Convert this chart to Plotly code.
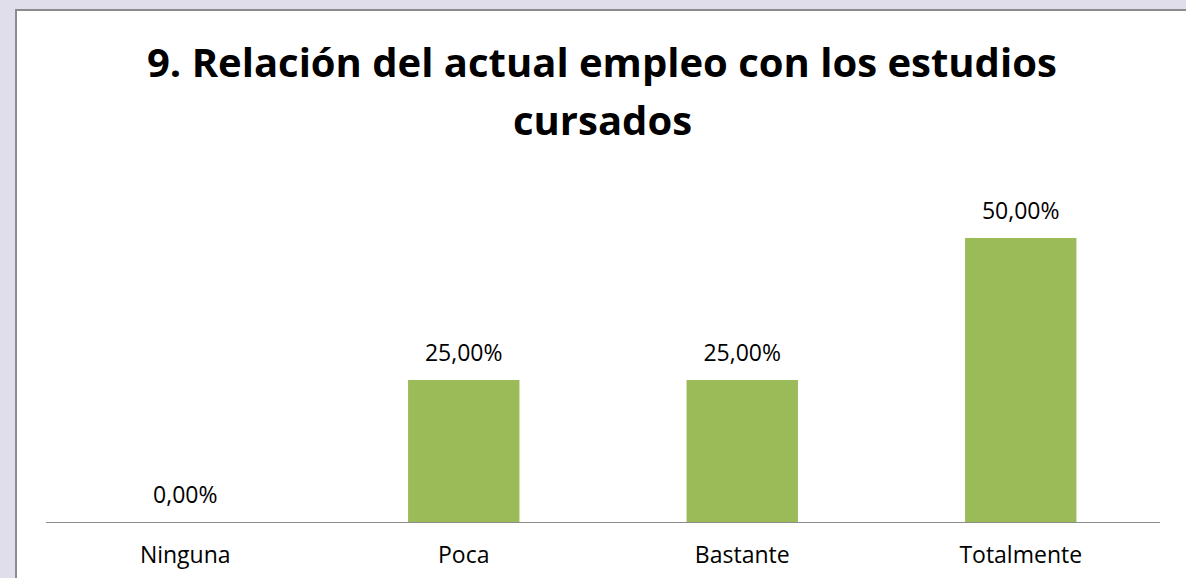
import plotly.graph_objects as go

categorias = ["Ninguna", "Poca", "Bastante", "Totalmente"]
porcentajes = [0.0, 0.25, 0.25, 0.50]
etiquetas = ["0,00%", "25,00%", "25,00%", "50,00%"]

titulo_1 = "9. Relación del actual empleo con los estudios"
titulo_2 = "cursados"

W, H = 1186, 578
L, R, T, B = 46, 26, 180, 56
pw, ph = W - L - R, H - T - B


def py(y):
    # posicion vertical en px -> fraccion de papel
    return (H - B - y) / ph


fig = go.Figure()
fig.add_trace(go.Bar(
    x=categorias, y=porcentajes,
    marker=dict(color="#9bbb59", line=dict(width=0)),
    width=0.4, hoverinfo="skip",
))
# etiquetas de datos encima de cada barra
fig.add_trace(go.Scatter(
    x=categorias, y=porcentajes, text=etiquetas,
    mode="markers+text", textposition="top center",
    marker=dict(size=20, opacity=0), hoverinfo="skip",
    textfont=dict(family="Open Sans", size=23, color="#000000"),
    cliponaxis=False,
))

fig.update_layout(
    width=W, height=H,
    margin=dict(l=L, r=R, t=T, b=B, autoexpand=False),
    paper_bgcolor="#e1deec", plot_bgcolor="white",
    font=dict(family="Open Sans", color="#000000"),
    showlegend=False,
    bargap=0.6,
    shapes=[dict(
        type="rect", layer="below", xref="paper", yref="paper",
        x0=(16 - L) / pw, x1=(W + 20 - L) / pw,
        y0=py(H + 30), y1=py(10),
        fillcolor="white", line=dict(color="#8c8c8c", width=2),
    )],
    annotations=[
        dict(text="<b>%s</b>" % titulo_1, xref="paper", yref="paper",
             x=(602 - L) / pw, y=py(62), showarrow=False,
             font=dict(size=40, family="Open Sans"), yanchor="middle"),
        dict(text="<b>%s</b>" % titulo_2, xref="paper", yref="paper",
             x=(602 - L) / pw, y=py(120), showarrow=False,
             font=dict(size=40, family="Open Sans"), yanchor="middle"),
    ],
)

fig.update_xaxes(showline=True, linecolor="#8c8c8c", linewidth=1, automargin=False,
                 ticks="outside", ticklen=12, tickcolor="rgba(0,0,0,0)",
                 tickfont=dict(size=23, family="Open Sans"), showgrid=False)
fig.update_yaxes(range=[0, 0.5 * ph / 284], visible=False, showgrid=False, zeroline=False,
                 automargin=False)

fig.write_html("out.html", config={"displayModeBar": False},
               post_script="document.body.style.margin='0';document.body.style.overflow='hidden';")
